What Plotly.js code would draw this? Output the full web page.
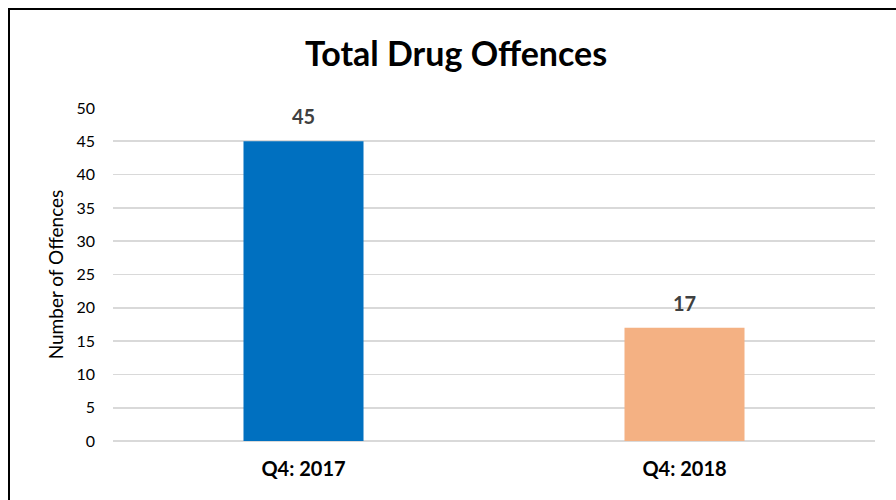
<!DOCTYPE html>
<html><head><meta charset="utf-8">
<script src="https://cdn.plot.ly/plotly-3.0.1.min.js"></script>
<style>html,body{margin:0;padding:0;background:#fff}#c{width:896px;height:500px}</style>
</head><body><div id="c"></div>
<script>
const categories = ["Q4: 2017", "Q4: 2018"];
const offences = [45, 17];
const barColors = ["#0070C0", "#F4B183"];
const yTicks = [0, 5, 10, 15, 20, 25, 30, 35, 40, 45, 50];

const trace = {
  type: "bar",
  x: categories,
  y: offences,
  marker: {color: barColors},
  hoverinfo: "none"
};

const labels = categories.map((c, i) => ({
  x: c, y: offences[i], xref: "x", yref: "y",
  text: "<b>" + offences[i] + "</b>", showarrow: false,
  yanchor: "middle", yshift: 25,
  font: {family: "Lato, sans-serif", size: 20, color: "#404040"}
}));

const layout = {
  width: 896, height: 500,
  margin: {l: 113, r: 21, t: 108, b: 59},
  paper_bgcolor: "#fff", plot_bgcolor: "#fff",
  bargap: 0.685,
  showlegend: false,
  title: {text: "<b>Total Drug Offences</b>", x: 0.509, xanchor: "center", y: 0.892, yanchor: "middle",
          font: {family: "Lato, sans-serif", size: 34, color: "#000"}},
  xaxis: {
    type: "category",
    tickfont: {family: "Lato, sans-serif", size: 20, color: "#000", weight: "bold"},
    ticks: "", showgrid: false, showline: false, ticklabelstandoff: 14
  },
  yaxis: {
    range: [0, 50], tickvals: yTicks, ticktext: yTicks.map(String),
    showgrid: true, gridcolor: "#d9d9d9", gridwidth: 1.7,
    zeroline: true, zerolinecolor: "#d9d9d9", zerolinewidth: 1.7,
    showline: false, ticks: "", ticklabelstandoff: 17,
    tickfont: {family: "Lato, sans-serif", size: 16, color: "#000"},
    title: {text: "Number of Offences", standoff: 7, font: {family: "Lato, sans-serif", size: 19, color: "#000"}}
  },
  annotations: labels,
  shapes: [{type: "rect", xref: "paper", yref: "paper",
    x0: -104/762, x1: 30/762 + 1, y0: -100/333, y1: 1 + 99/333,
    line: {color: "#000", width: 2}, fillcolor: "rgba(0,0,0,0)", layer: "below"}]
};

Plotly.newPlot("c", [trace], layout, {displayModeBar: false, staticPlot: true});
</script></body></html>
